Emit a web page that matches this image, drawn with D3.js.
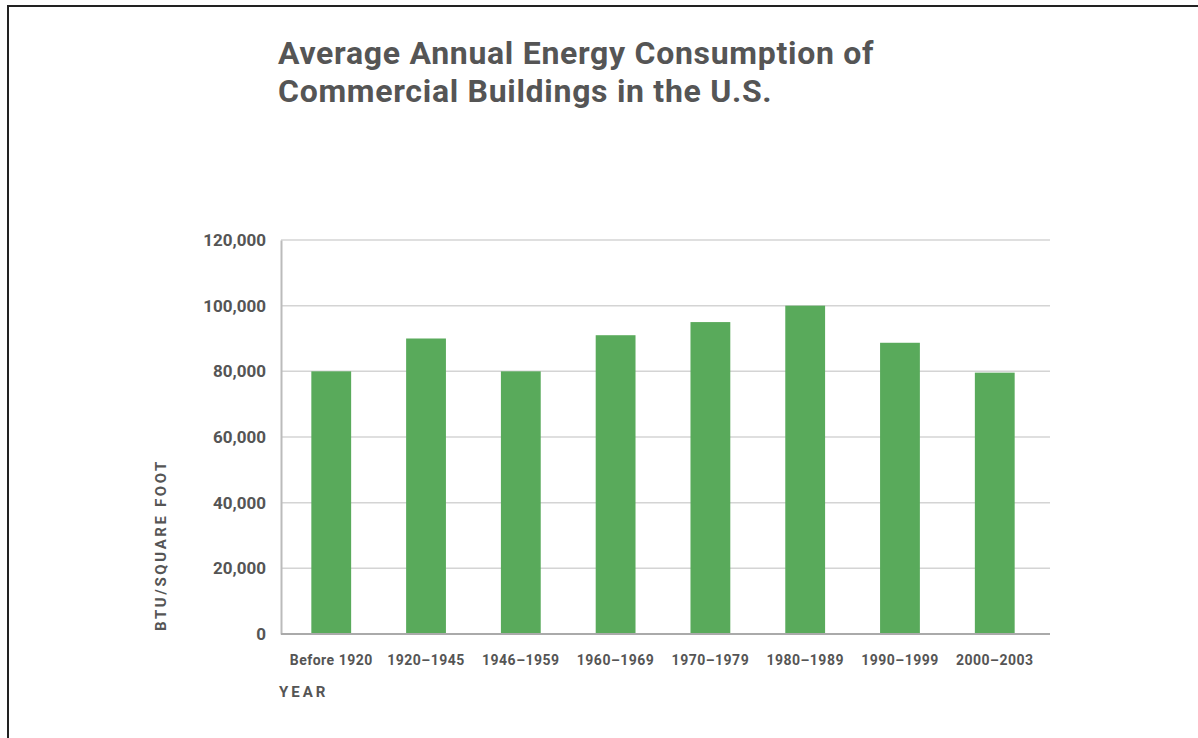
<!DOCTYPE html>
<html>
<head>
<meta charset="utf-8">
<script src="https://cdn.jsdelivr.net/npm/d3@7"></script>
<style>
  body { margin: 0; background: #fff; }
  svg { display: block; }
  text { font-family: Roboto, "DejaVu Sans", sans-serif; }
</style>
</head>
<body>
<div id="container"></div>
<script>
// data
var periods = ["Before 1920", "1920\u20131945", "1946\u20131959", "1960\u20131969",
               "1970\u20131979", "1980\u20131989", "1990\u20131999", "2000\u20132003"];
var btu = [80000, 90000, 80000, 91000, 95000, 100000, 88700, 79600];
var yTicks = [0, 20000, 40000, 60000, 80000, 100000, 120000];

var W = 1198, H = 738;
var margin = {top: 240, right: 148, bottom: 104, left: 281},
	width = W - margin.left - margin.right,
	height = H - margin.top - margin.bottom;

var textCol = "#555";

var svg = d3.select("#container").append("svg")
	.attr("width", W)
	.attr("height", H);

// page frame (top and left edges)
svg.append("path")
	.attr("d", "M8," + H + "V6H" + W)
	.attr("fill", "none")
	.attr("stroke", "#222")
	.attr("stroke-width", 2);

// title
var title = svg.append("text")
	.attr("x", 278)
	.attr("y", 64)
	.style("font-size", "32px")
	.style("font-weight", "700")
	.style("letter-spacing", "0.7px")
	.style("fill", textCol);
title.append("tspan").attr("x", 278).text("Average Annual Energy Consumption of");
title.append("tspan").attr("x", 278).attr("dy", 38).text("Commercial Buildings in the U.S.");

var g = svg.append("g")
	.attr("transform", "translate(" + margin.left + "," + margin.top + ")");

var x = d3.scaleBand().domain(periods).range([0, width - 5])
	.paddingInner(0.58).paddingOuter(0.32);
var y = d3.scaleLinear().domain([0, 120000]).range([height, 0]);

// grid lines
g.selectAll(".grid").data(yTicks.filter(function(d){ return d > 0; })).enter()
	.append("line")
	.attr("class", "grid")
	.attr("x1", 0)
	.attr("x2", width)
	.attr("y1", function(d){ return y(d); })
	.attr("y2", function(d){ return y(d); })
	.attr("stroke", "#d4d4d4")
	.attr("stroke-width", 1.5);

// bars
g.selectAll(".bar").data(btu).enter()
	.append("rect")
	.attr("class", "bar")
	.attr("x", function(d, i){ return x(periods[i]); })
	.attr("width", x.bandwidth())
	.attr("y", function(d){ return y(d); })
	.attr("height", function(d){ return height - y(d); })
	.style("fill", "#59aa5b");

// y axis
var yAxis = d3.axisLeft(y)
	.tickValues(yTicks)
	.tickSize(0)
	.tickPadding(15)
	.tickFormat(d3.format(","));

g.append("g")
	.attr("class", "y axis")
	.call(yAxis)
	.call(function(s){
		s.select(".domain").attr("stroke", "#bbb").attr("stroke-width", 2);
		s.selectAll("text")
			.style("font-size", "17px")
			.style("font-weight", "700")
			.style("font-family", "Roboto, sans-serif")
			.style("fill", textCol);
	});

// x axis
var xAxis = d3.axisBottom(x).tickSize(0).tickPadding(21);
g.append("g")
	.attr("class", "x axis")
	.attr("transform", "translate(0," + height + ")")
	.call(xAxis)
	.call(function(s){
		s.select(".domain").attr("d", "M0,0H" + width).attr("stroke", "#aaa").attr("stroke-width", 2);
		s.selectAll("text")
			.style("font-size", "14px")
			.style("font-weight", "700")
			.style("letter-spacing", "0.5px")
			.style("font-family", "Roboto, sans-serif")
			.style("fill", textCol);
	});

// axis labels
svg.append("text")
	.attr("x", 279)
	.attr("y", 697)
	.style("font-size", "15px")
	.style("font-weight", "700")
	.style("letter-spacing", "3px")
	.style("fill", textCol)
	.text("YEAR");

svg.append("text")
	.attr("transform", "translate(166,545) rotate(-90)")
	.style("text-anchor", "middle")
	.style("font-size", "15px")
	.style("font-weight", "700")
	.style("letter-spacing", "2.6px")
	.style("fill", textCol)
	.text("BTU/SQUARE FOOT");
</script>
</body>
</html>
